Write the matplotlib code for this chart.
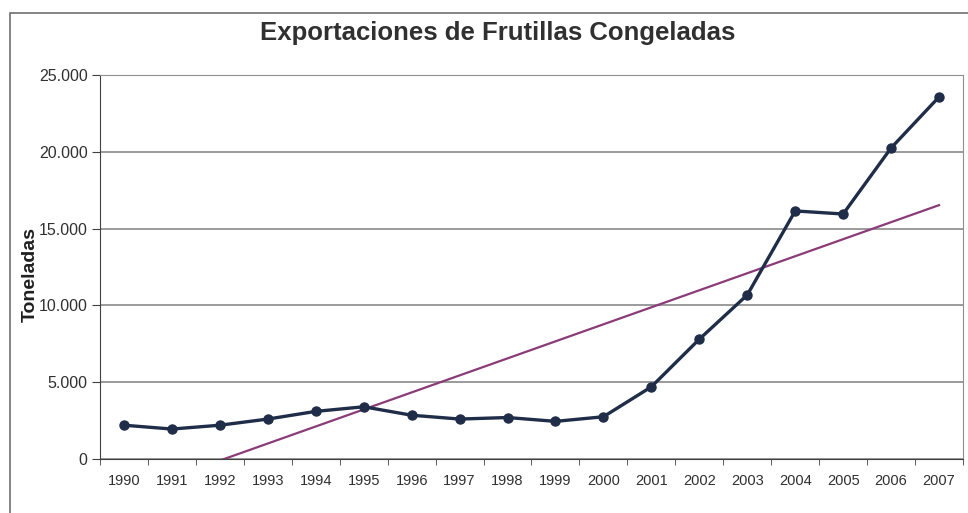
import numpy as np
import matplotlib
matplotlib.use("Agg")
import matplotlib.pyplot as plt
from matplotlib.ticker import FuncFormatter, FixedLocator
from matplotlib.patches import Rectangle

years = ["1990", "1991", "1992", "1993", "1994", "1995", "1996", "1997", "1998",
         "1999", "2000", "2001", "2002", "2003", "2004", "2005", "2006", "2007"]
toneladas = [2200, 1950, 2200, 2600, 3100, 3400, 2850, 2600, 2700,
             2450, 2750, 4700, 7800, 10680, 16150, 15950, 20250, 23570]
yticks = [0, 5000, 10000, 15000, 20000, 25000]

plt.rcParams['font.family'] = ['Liberation Sans', 'DejaVu Sans']

fig = plt.figure(figsize=(9.68, 5.13), dpi=100)
fig.patch.set_facecolor("white")

# outer chart frame
fig.patches.append(Rectangle((10 / 968, -0.05), 1.2, (513 - 13) / 513 + 0.05,
                             transform=fig.transFigure, fill=False,
                             edgecolor="#707070", linewidth=1.2))

ax = fig.add_axes([100 / 968, 54 / 513, 863 / 968, 384 / 513])
x = np.arange(len(years))

# linear trend from the data
coef = np.polyfit(x, toneladas, 1)
ax.plot([-0.5, x[-1]], np.polyval(coef, [-0.5, x[-1]]), color="#8a3b78", lw=1.6, zorder=2)

ax.plot(x, toneladas, color="#1f2d48", lw=2.4, marker="o", markersize=6.5, zorder=3)

ax.set_xlim(-0.5, len(years) - 0.5)
ax.set_ylim(0, 25000)
ax.set_yticks(yticks)
ax.yaxis.set_major_formatter(FuncFormatter(lambda v, p: f"{int(v):,}".replace(",", ".")))
ax.grid(axis="y", color="#808080", lw=1.1)
ax.set_axisbelow(True)

ax.set_xticks(x)
ax.set_xticklabels(years)
ax.xaxis.set_minor_locator(FixedLocator(np.arange(-0.5, len(years), 1)))
ax.tick_params(axis="x", which="major", length=0, labelsize=10.5, pad=11)
ax.tick_params(axis="x", which="minor", length=4, direction="out", color="#404040")
ax.tick_params(axis="y", length=6, labelsize=11.5, color="#404040", pad=3)
for lab in ax.get_xticklabels() + ax.get_yticklabels():
    lab.set_color("#303030")

for side in ["top", "right"]:
    ax.spines[side].set_color("#909090")
ax.spines["left"].set_color("#404040")
ax.spines["bottom"].set_color("#404040")

ax.set_ylabel("Toneladas", fontsize=14, fontweight="bold", color="#202020")
ax.yaxis.set_label_coords(-0.071, 0.48)
fig.text(498 / 968, 1 - 33 / 513, "Exportaciones de Frutillas Congeladas",
         ha="center", va="center", fontsize=18.5, fontweight="bold", color="#303030")

fig.savefig("out.png", dpi=100)
